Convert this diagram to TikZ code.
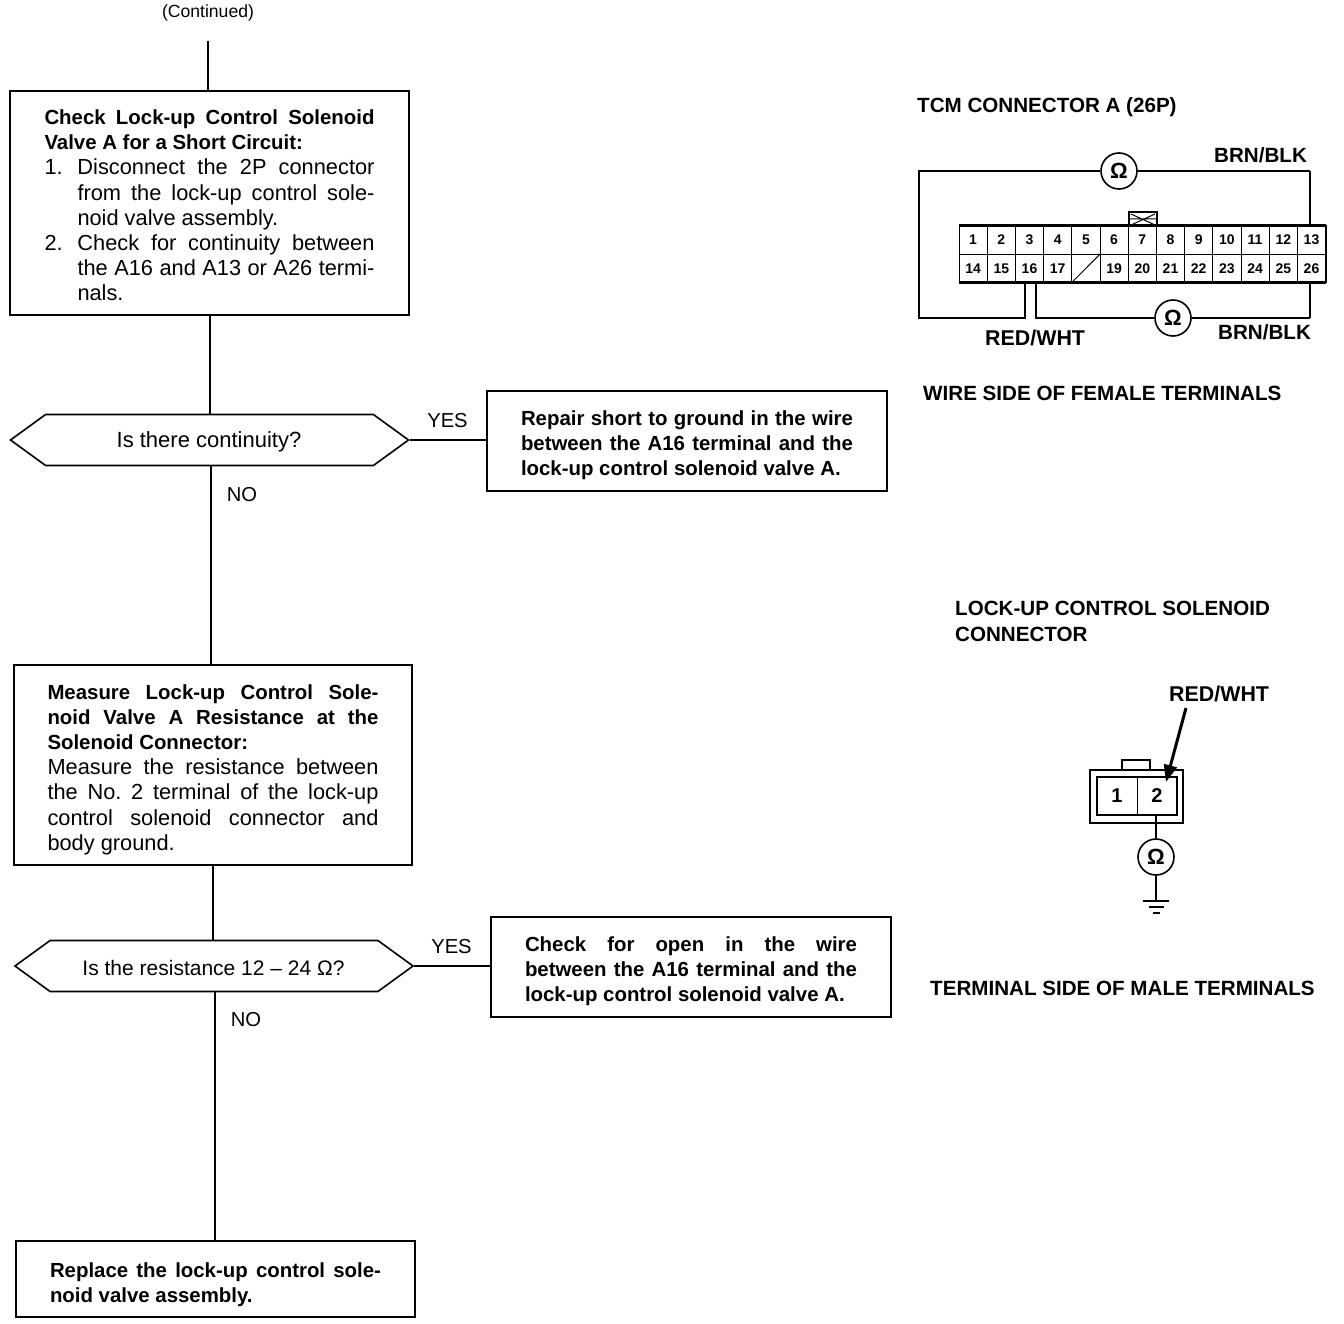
\documentclass[tikz,border=0pt]{standalone}
\usepackage{fontspec}
\setmainfont{Liberation Sans}
\usetikzlibrary{shapes.symbols,arrows.meta}
\frenchspacing
\newcommand{\Jl}[1]{\makebox[\linewidth][s]{#1}\par}
\newcommand{\Pl}[1]{\mbox{#1}\par}
\newcommand{\Il}[2]{\makebox[33pt][l]{#1}\makebox[\dimexpr\linewidth-33pt\relax][s]{#2}\par}
\newcommand{\Ic}[1]{\hspace*{33pt}\makebox[\dimexpr\linewidth-33pt\relax][s]{#1}\par}
\newcommand{\In}[1]{\hspace*{33pt}\mbox{#1}\par}
\newcommand{\Bd}{\fontsize{20.4}{25.2}\selectfont\bfseries}
\newcommand{\Rg}{\fontsize{21.8}{25.2}\selectfont\mdseries}
% #1 text width, #2 twice the downward shift of the text within its box
\newenvironment{blockt}[2]{\begin{minipage}{#1}\setlength{\parindent}{0pt}\setlength{\parskip}{0pt}\vspace*{#2}}{\end{minipage}}
\tikzset{
  box/.style={draw,line width=1.6pt,rectangle,inner sep=0pt,anchor=center},
  dec/.style={draw,line width=1.6pt,signal,signal to=west and east,signal pointer angle=72,minimum width=398pt,minimum height=51pt,inner sep=0pt},
  link/.style={line width=1.6pt},
  lab/.style={font=\fontsize{20.2}{25}\selectfont,inner sep=0pt},
  blab/.style={font=\fontsize{20.6}{25}\selectfont\bfseries,inner sep=0pt,anchor=base west},
  rwlab/.style={font=\fontsize{21.4}{25}\selectfont\bfseries,inner sep=0pt,anchor=base west},
  cell/.style={draw,line width=1pt,rectangle,minimum width=28.2pt,minimum height=28.3pt,inner sep=0pt,font=\fontsize{14}{16}\selectfont\bfseries},
  ohm/.style={draw,line width=1.6pt,circle,fill=white,minimum size=36pt,inner sep=0pt,font=\fontsize{22}{24}\selectfont\bfseries},
  wire/.style={line width=2.4pt},
}
\begin{document}
\begin{tikzpicture}[x=1pt,y=-1pt]
\useasboundingbox (0,0) rectangle (1344,1324);
\fill[white] (0,0) rectangle (1344,1324);
% flowchart
\node[inner sep=0pt,font=\fontsize{17.6}{20}\selectfont] (cont) at (208,12.5) {(Continued)};
\coordinate (contend) at (208,41);
\node[box,minimum width=399pt,minimum height=224pt] (b1) at (209.5,203) {\begin{blockt}{330pt}{5pt}\Bd
\Jl{Check Lock-up Control Solenoid}
\Pl{Valve A for a Short Circuit:}
\Rg
\Il{1.}{Disconnect the 2P connector}
\Ic{from the lock-up control sole-}
\In{noid valve assembly.}
\Il{2.}{Check for continuity between}
\Ic{the A16 and A13 or A26 termi-}
\In{nals.}
\end{blockt}};
\node[dec] (d1) at (209.5,440) {};
\node[inner sep=0pt,font=\fontsize{22}{24}\selectfont] (d1t) at (209,441.5) {Is there continuity?};
\node[box,minimum width=400pt,minimum height=100pt] (y1) at (687,441) {\begin{blockt}{332pt}{9pt}\Bd
\Jl{Repair short to ground in the wire}
\Jl{between the A16 terminal and the}
\Pl{lock-up control solenoid valve A.}
\end{blockt}};
\node[box,minimum width=398pt,minimum height=200pt] (b2) at (213,765) {\begin{blockt}{331pt}{9pt}\Bd
\Jl{Measure Lock-up Control Sole-}
\Jl{noid Valve A Resistance at the}
\Pl{Solenoid Connector:}
\Rg
\Jl{Measure the resistance between}
\Jl{the No. 2 terminal of the lock-up}
\Jl{control solenoid connector and}
\Pl{body ground.}
\end{blockt}};
\node[dec] (d2) at (214,966) {};
\node[inner sep=0pt,font=\fontsize{21}{24}\selectfont] (d2t) at (213.5,968) {Is the resistance 12 -- 24 Ω?};
\node[box,minimum width=400pt,minimum height=100pt] (y2) at (691,967) {\begin{blockt}{332pt}{8pt}\Bd
\Jl{Check for open in the wire}
\Jl{between the A16 terminal and the}
\Pl{lock-up control solenoid valve A.}
\end{blockt}};
\node[box,minimum width=399pt,minimum height=76pt] (b3) at (215.5,1279) {\begin{blockt}{331pt}{12pt}\Bd
\Jl{Replace the lock-up control sole-}
\Pl{noid valve assembly.}
\end{blockt}};
\draw[link] (contend) -- (contend |- b1.north);
\draw[link] ([xshift=.5pt]b1.south) -- ([xshift=.5pt]b1.south |- d1.north);
\draw[link] (d1.east) -- (d1.east -| y1.west);
\draw[link] ([xshift=1.5pt]d1.south) -- ([xshift=1.5pt]d1.south |- b2.north);
\draw[link] (b2.south) -- (b2.south |- d2.north);
\draw[link] (d2.east) -- (d2.east -| y2.west);
\draw[link] ([xshift=1pt]d2.south) -- ([xshift=1pt]d2.south |- b3.north);
\node[lab] (yes1) at (447.5,420.5) {YES};
\node[lab] (no1) at (242,494.5) {NO};
\node[lab] (yes2) at (451.5,946.5) {YES};
\node[lab] (no2) at (246,1019.5) {NO};
% TCM connector
\node[blab] (tcm) at (917,113) {TCM CONNECTOR A (26P)};
\foreach \n [count=\i from 0] in {1,...,13} {
  \node[cell] (c\n) at ({973.1+28.2*\i},240) {\n};
}
\foreach \n/\t [count=\i from 0] in {14/14,15/15,16/16,17/17,18/{},19/19,20/20,21/21,22/22,23/23,24/24,25/25,26/26} {
  \node[cell] (c\n) at ({973.1+28.2*\i},268.3) {\t};
}
\draw[line width=1pt] (c18.south west) -- (c18.north east);
\draw[wire] (c1.north west) -- (c13.north east);
\draw[line width=3pt] (c14.south west) -- (c26.south east);
\draw[wire] (c13.north east) -- (c26.south east);
\draw[line width=2pt] (1129,226) -- (1129,212) -- (1157,212) -- (1157,226);
\draw[line width=1pt] (1131,214) -- (1155,225) (1155,214) -- (1131,225) (1129,219) -- (1157,219);
\node[ohm] (o1) at (1119,171) {Ω};
\node[ohm] (o2) at (1173,318) {Ω};
\coordinate (w16a) at ([xshift=-4.5pt]c16.south);
\coordinate (w16b) at ([xshift=6.5pt]c16.south);
\draw[wire] (o1.west) -- (919,171) -- (919,318) -- (w16a |- o2.west) -- (w16a);
\draw[wire] ([xshift=-1.5pt]c13.north |- o1.east) -- (o1.east);
\draw[wire] ([xshift=-1.5pt]c13.north |- o1.east) -- ([xshift=-1.5pt]c13.north);
\draw[wire] (o2.west) -- (w16b |- o2.west) -- (w16b);
\draw[wire] ([xshift=-1.5pt]c26.south |- o2.east) -- (o2.east);
\draw[wire] ([xshift=-1.5pt]c26.south |- o2.east) -- ([xshift=-1.5pt]c26.south);
\node[blab] (bb1) at (1214,163) {BRN/BLK};
\node[rwlab] (rw1) at (985,345) {RED/WHT};
\node[blab] (bb2) at (1218,340) {BRN/BLK};
\node[blab] (wire) at (923,400) {WIRE SIDE OF FEMALE TERMINALS};
% solenoid connector
\node[blab] (lk1) at (955,615) {LOCK-UP CONTROL SOLENOID};
\node[blab] (lk2) at (955,641) {CONNECTOR};
\node[rwlab] (rw2) at (1169,701) {RED/WHT};
\draw[line width=1.5pt] (1122,770) -- (1122,760) -- (1150,760) -- (1150,770);
\node[draw,line width=1.5pt,minimum width=93pt,minimum height=53pt,inner sep=0pt] (outer) at (1136.5,796.5) {};
\node[draw,line width=2.5pt,minimum width=80pt,minimum height=38pt,inner sep=0pt] (inner) at (1137,796) {};
\draw[line width=1pt] (inner.north) -- (inner.south);
\node[inner sep=0pt,font=\fontsize{20}{24}\selectfont\bfseries] (t1) at (1117,796) {1};
\node[inner sep=0pt,font=\fontsize{20}{24}\selectfont\bfseries] (t2) at (1157,796) {2};
\node[ohm] (o3) at (1156,857) {Ω};
\coordinate (gnd) at (1156,901);
\draw[wire] (o3.north) -- (o3.north |- inner.south);
\draw[line width=1.6pt] (o3.south) -- (gnd);
\draw[line width=1.6pt] ([xshift=-13pt]gnd) -- ([xshift=13pt]gnd);
\draw[line width=1.6pt] (1149,907) -- (1164,907);
\draw[line width=1.6pt] (1153,913) -- (1160,913);
\coordinate (arrs) at (1186,708);
\coordinate (arre) at (1166,782);
\draw[line width=3pt,-{Triangle[length=17pt,width=13pt]}] (arrs) -- (arre);
\node[blab] (term) at (930,995) {TERMINAL SIDE OF MALE TERMINALS};
\end{tikzpicture}
\end{document}
